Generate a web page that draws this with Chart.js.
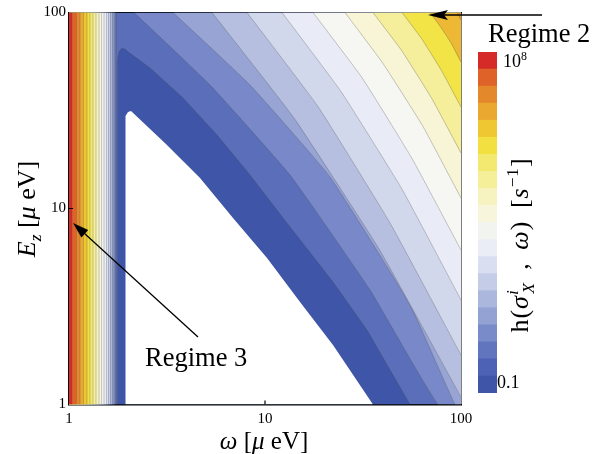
<!DOCTYPE html>
<html><head><meta charset="utf-8">
<script src="https://cdn.jsdelivr.net/npm/chart.js"></script>
<style>
html,body{margin:0;padding:0;background:#fff;}
#wrap{position:relative;width:607px;height:454px;overflow:hidden;font-family:'Liberation Serif','Times New Roman',serif;color:#000;}
#main{position:absolute;left:0;top:0;width:607px;height:454px;}
#cbar{position:absolute;left:478px;top:52px;width:19px;height:341px;}
.t{position:absolute;white-space:nowrap;line-height:1;}
.rot{transform:translate(-50%,-50%) rotate(-90deg);}
.ctr{transform:translate(-50%,-50%);}
sub,sup{font-size:66%;line-height:0;}
</style></head><body>
<div id="wrap">
<canvas id="main" width="607" height="454"></canvas>
<canvas id="cbar" width="19" height="341"></canvas>
<svg width="607" height="454" style="position:absolute;left:0;top:0">
<line x1="198" y1="337" x2="84.8" y2="233.8" stroke="#000" stroke-width="1.3"/>
<polygon points="73,223 88.2,230.1 81.4,237.5" fill="#000"/>
<line x1="542" y1="15" x2="444" y2="15" stroke="#000" stroke-width="1.3"/>
<polygon points="428,15 448,10 444,15 448,20" fill="#000"/>
</svg>
<div class="t" style="left:145px;top:344px;font-size:26.5px">Regime 3</div>
<div class="t" style="left:488px;top:20px;font-size:26.5px">Regime 2</div>
<div class="t ctr" style="left:264px;top:440px;font-size:25px"><i>ω</i> [<i>μ</i> eV]</div>
<div class="t rot" style="left:27px;top:209px;font-size:26px"><i>E<sub>z</sub></i> [<i>μ</i> eV]</div>
<div class="t rot" style="left:520px;top:245px;font-size:26px;letter-spacing:1px;word-spacing:5px">h(<i>σ</i><sup><i>i</i></sup><sub style="margin-left:-0.25em"><i>X</i></sub> , <i>ω</i>) [<i>s</i><sup>−1</sup>]</div>
<div class="t" style="left:503px;top:52px;font-size:18px">10<sup>8</sup></div>
<div class="t" style="left:497px;top:373px;font-size:18px">0.1</div>
</div>
<script>
// ---------- axes ----------
const xTickValues = [1, 10, 100];
const xTickLabels = ['1', '10', '100'];
const yTickValues = [1, 10, 100];
const yTickLabels = ['1', '10', '100'];

// ---------- colour bar (bottom 0.1 -> top 10^8) ----------
const cbarColors = ['#3f55a8','#4d62b4','#6075be','#798bc9','#93a1d3','#acb7dd','#c4cce7','#d9def0','#eaedf6','#f2f4f0',
                    '#f7f6dd','#f7f3c0','#f5ef9a','#f3e970','#f1e040','#eec732','#eaa830','#e4882c','#df6228','#d62a28'];

// ---------- left vertical bands: omega of boundary for level k = 3..20 ----------
const stripLevels = [3,4,5,6,7,8,9,10,11,12,13,14,15,16,17,18,19,20];
const stripOmega  = [1.747,1.727,1.697,1.667,1.628,1.591,1.554,1.509,1.465,1.423,1.373,1.326,1.280,1.236,1.186,1.138,1.092,1.036];

// ---------- diagonal region band colours (band 0 .. 13) ----------
const diagColors = ['#ffffff','#3f55a8','#5a6eba','#7888c8','#97a4d4','#b6bfe0','#d2d8ec','#e9ecf6','#f6f7f2','#f8f5d6','#f5ee9a','#f2e446','#edb934','#e8982e'];

// ---------- contours [omega, E] ----------
const whiteEdge = [[1.931,1],[1.931,26.67],[1.953,29.65],[2.0,31.07],[2.072,31.43],[3.162,21.09],[4.661,14.31],[6.867,8.944],[10.24,5.589],[15.09,3.334],[22.23,2.012],[35.56,1]];
const band1Edge = [[1.768,1],[1.768,57.24],[1.799,62.86],[1.853,65.5],[1.931,65.13],[1.976,63.62],[2.590,52.11],[3.816,36.63],[5.69,23.71],[8.385,14.83],[12.36,8.944],[22.23,4.217],[33.14,2.4],[54.93,1]];
const c3  = [[2.146,100],[5.241,42.67],[13.41,14.83],[34.33,3.838],[76.32,1],[100,1]];
const c4  = [[3.393,100],[8.385,42.67],[21.46,14.48],[54.93,3.218],[93.2,1],[100,1]];
const c5  = [[5.365,100],[14.06,28.93],[38.15,6.222],[100,1.092]];
const c6  = [[8.094,100],[18.64,33.11],[43.43,8.434],[100,1.789]];
const c7  = [[12.21,100],[24.42,39.53],[50.0,12.55],[100,3.413]];
const c8  = [[17.58,100],[31.26,46.49],[56.23,17.99],[100,6.142]];
const c9  = [[25.6,100],[40.0,54.93],[64.0,26.2],[100,11.31]];
const c10 = [[35.56,100],[50.0,63.55],[71.12,36.24],[100,19.19]];
const c11 = [[50.0,100],[62.88,73.68],[79.52,50.54],[100,32.95]];
const c12 = [[69.47,100],[78.13,85.24],[88.92,69.96],[100,55.9]];
const c13 = [[95.41,100],[100,91.57]];
const diagContours = [c3,c4,c5,c6,c7,c8,c9,c10,c11,c12,c13];

// ---------- small inward frame ticks at 10 ----------
const xTick10 = [[10,1],[10,1.048]];
const yTick10 = [[1,10],[1.048,10]];

// ---------- build datasets (painter order) ----------
const LINE = 'rgba(70,70,70,0.5)';
const SLINE = 'rgba(90,90,90,0.22)';
const datasets = [];
const toPts = a => a.map(p => ({x: p[0], y: p[1]}));
function add(data, fill, color, line, tension, lw) {
  datasets.push({data: toPts(data), fill: fill, backgroundColor: color,
    borderColor: line || 'rgba(0,0,0,0)', borderWidth: line ? (lw || 0.6) : 0,
    pointRadius: 0, tension: tension || 0});
}
add([[1,100],[100,100]], 'start', diagColors[2]);
diagContours.forEach((c, i) => add(c, 'end', diagColors[i + 3], LINE, 0.12));
stripLevels.forEach((k, i) => add([[1,100],[stripOmega[i],100],[stripOmega[i],1]], 'start', cbarColors[k - 1], SLINE, 0, 0.5));
add(band1Edge, 'start', diagColors[1], LINE, 0);
add(whiteEdge, 'start', diagColors[0], null, 0);
add(xTick10, false, 'rgba(0,0,0,0)', '#000', 0, 1.2);
add(yTick10, false, 'rgba(0,0,0,0)', '#000', 0, 1.2);
datasets.forEach((d, i) => d.order = datasets.length - i);

const tickFont = {family: "'Liberation Serif','Times New Roman',serif", size: 15};
const frame = {display: true, color: '#000', width: 1.5};
new Chart(document.getElementById('main'), {
  type: 'line',
  data: {datasets: datasets},
  options: {
    responsive: false, animation: false, devicePixelRatio: 1, events: [],
    layout: {padding: {left: 0, right: 146, top: 12.5, bottom: 0}},
    plugins: {legend: {display: false}, tooltip: {enabled: false}},
    scales: {
      x: {type: 'logarithmic', position: 'bottom', min: 1, max: 100, z: 1,
          grid: {display: false, drawTicks: false}, border: frame,
          afterBuildTicks: s => { s.ticks = xTickValues.map(v => ({value: v})); },
          afterFit: s => { s.height = 49.5; },
          ticks: {autoSkip: false, maxRotation: 0, padding: 6, color: '#000', font: tickFont,
                  callback: (v, i) => xTickLabels[i]}},
      y: {type: 'logarithmic', position: 'left', min: 1, max: 100, z: 1,
          grid: {display: false, drawTicks: false}, border: frame,
          afterBuildTicks: s => { s.ticks = yTickValues.map(v => ({value: v})); },
          afterFit: s => { s.width = 69; },
          ticks: {autoSkip: false, padding: 3, color: '#000', font: tickFont,
                  callback: (v, i) => yTickLabels[i]}},
      x2: {type: 'logarithmic', position: 'top', min: 1, max: 100, z: 1,
           grid: {display: false, drawTicks: false}, border: frame, ticks: {display: false},
           afterFit: s => { s.height = 0; }},
      y2: {type: 'logarithmic', position: 'right', min: 1, max: 100, z: 1,
           grid: {display: false, drawTicks: false}, border: frame, ticks: {display: false},
           afterFit: s => { s.width = 0; }}
    }
  }
});

new Chart(document.getElementById('cbar'), {
  type: 'bar',
  data: {labels: [''], datasets: cbarColors.map(c => ({data: [1], backgroundColor: c, borderWidth: 0,
        barPercentage: 1, categoryPercentage: 1, stack: 's'}))},
  options: {responsive: false, animation: false, devicePixelRatio: 1, events: [],
    layout: {padding: 0},
    plugins: {legend: {display: false}, tooltip: {enabled: false}},
    scales: {x: {display: false, stacked: true}, y: {display: false, stacked: true, min: 0, max: cbarColors.length}}}
});
</script>
</body></html>
